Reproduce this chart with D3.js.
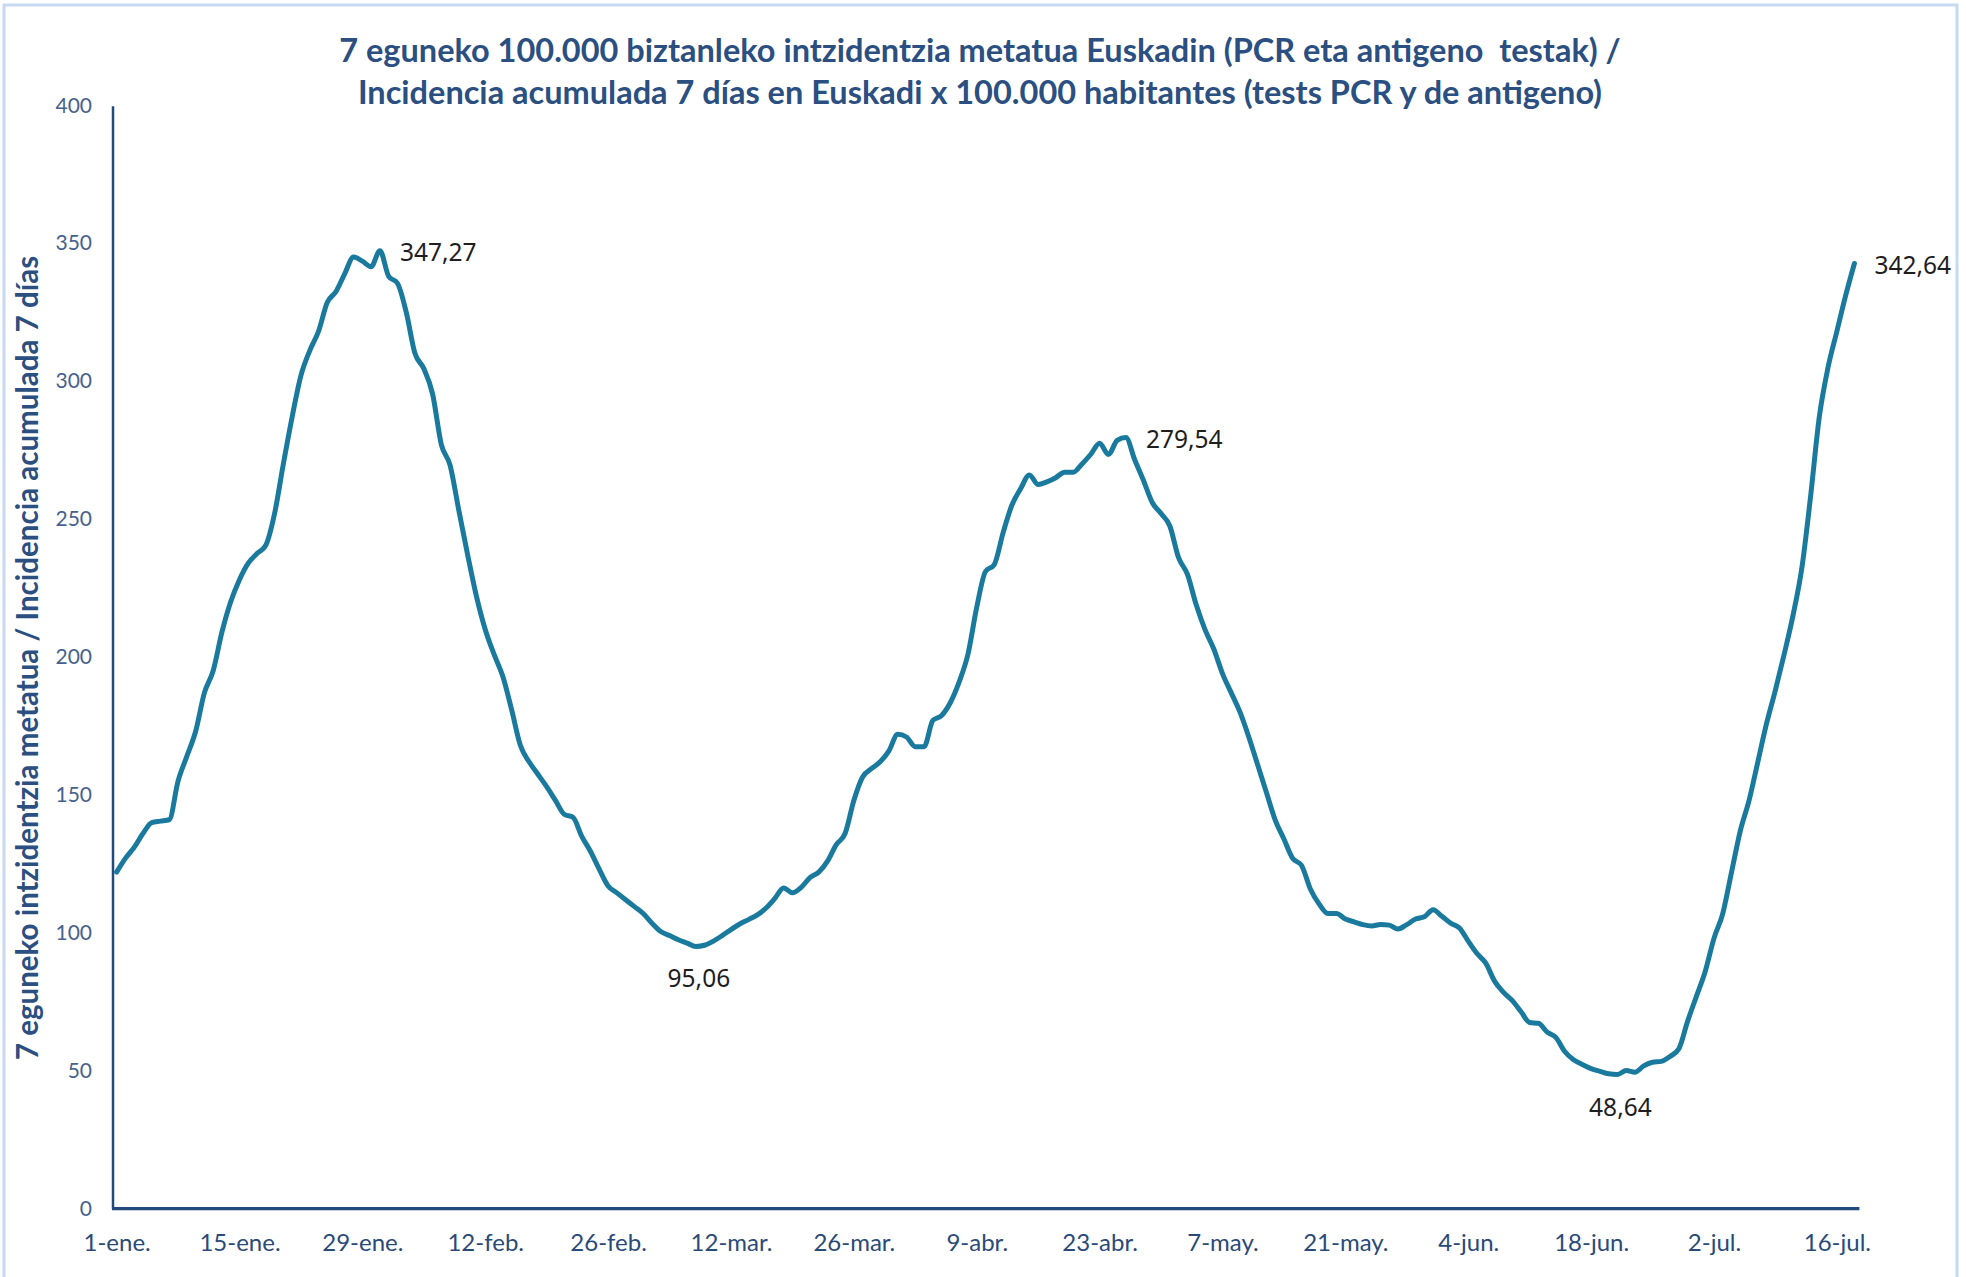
<!DOCTYPE html>
<html>
<head>
<meta charset="utf-8">
<title>Intzidentzia metatua Euskadin</title>
<script src="https://d3js.org/d3.v7.min.js"></script>
<style>
  body { margin: 0; background: #fff; }
  .title { font-family: Lato, "Open Sans", sans-serif; font-weight: 700; fill: #2a4f80; white-space: pre; }
  .ytitle { font-family: Lato, "Open Sans", sans-serif; font-weight: 700; fill: #2a4f80; }
  .y-axis text { font-family: Lato, "Noto Sans", sans-serif; fill: #46628c; }
  .x-axis text { font-family: Lato, "Noto Sans", sans-serif; fill: #2a4a78; }
  .data-label { font-family: "Noto Sans", Lato, sans-serif; fill: #1e1e1e; }
</style>
</head>
<body>
<div id="chart"></div>
<script>
// days are counted from 1-ene. (2021)
const startDate = new Date(2021, 0, 1);

// 7-day cumulative incidence per 100.000, one value per day
const incidence = [
  122, 127, 131, 136, 140, 140.5, 141, 155, 164, 173,
  187, 195, 209, 220, 228, 234, 237.5, 240.5, 252, 270,
  287, 302, 311, 318, 328.5, 332.5, 339, 345, 343.5, 341.5,
  347.27, 338, 335.5, 325, 310, 304.6, 295.4, 277, 269.5, 253,
  237, 222, 210, 201, 193, 181, 168, 162, 157.5, 153,
  148, 143, 141.9, 135, 129.5, 123, 117, 114.5, 112, 109.5,
  107, 103.5, 100.5, 99, 97.5, 96.3, 95.06, 95.5, 97, 99,
  101.2, 103.2, 104.8, 106.5, 109, 112.5, 116.3, 114.5, 116.5, 120,
  122, 126, 132, 136, 148, 156.5, 159.5, 162, 166, 172,
  171, 167.5, 167.5, 177, 178.8, 183.5, 191, 201, 218, 231,
  233.5, 245, 255, 261, 266, 262.5, 263.5, 265, 267, 267,
  270, 273.5, 277.5, 273.4, 278.5, 279.54, 271.5, 264, 256, 252,
  247.5, 236, 230, 219, 210, 203, 194, 187, 180, 171,
  161, 151, 141, 134, 127, 124.5, 116, 110.5, 107, 107,
  105, 104, 103, 102.5, 103, 102.8, 101.4, 103, 105, 105.8,
  108.4, 106, 103.5, 101.8, 97, 92.5, 89, 82.5, 78.5, 75.5,
  71.5, 67.5, 67.2, 64, 62, 57, 54, 52.3, 50.8, 49.8,
  48.9, 48.64, 50.1, 49.5, 51.8, 53.1, 53.4, 55.2, 58, 68,
  77, 86, 98, 107, 122, 137, 148, 162, 176, 188,
  201, 215, 232, 258, 287, 305, 318, 331, 342.64
];

const xTickLabels = ["1-ene.", "15-ene.", "29-ene.", "12-feb.", "26-feb.", "12-mar.", "26-mar.",
  "9-abr.", "23-abr.", "7-may.", "21-may.", "4-jun.", "18-jun.", "2-jul.", "16-jul."];
const xTickStep = 14;
const yTicks = [0, 50, 100, 150, 200, 250, 300, 350, 400];

// days that carry a value label (peaks, troughs and last value)
const labelledDays = [30, 66, 115, 171, 198];

const titleLines = [
  "7 eguneko 100.000 biztanleko intzidentzia metatua Euskadin (PCR eta antigeno  testak) /",
  "Incidencia acumulada 7 días en Euskadi x 100.000 habitantes (tests PCR y de antigeno)"
];
const yTitle = "7 eguneko intzidentzia metatua / Incidencia acumulada 7 días";

const width = 1966, height = 1277;
const series = incidence.map((v, i) => ({ date: d3.timeDay.offset(startDate, i), value: v }));

const svg = d3.select("#chart").append("svg")
  .attr("width", width)
  .attr("height", height);

// chart frame
svg.append("rect")
  .attr("x", 4).attr("y", 5)
  .attr("width", 1953).attr("height", 1300)
  .attr("fill", "#fff")
  .attr("stroke", "#c6d9f1")
  .attr("stroke-width", 3);

const x = d3.scaleTime()
  .domain([startDate, d3.timeDay.offset(startDate, incidence.length - 1)])
  .range([116.6, 1854.4]);
const y = d3.scaleLinear()
  .domain([0, 400])
  .range([1208.7, 105.3]);

const axisX0 = 113;

// y axis
const yAxis = svg.append("g")
  .attr("class", "y-axis")
  .attr("transform", `translate(${axisX0},0)`)
  .call(d3.axisLeft(y).tickValues(yTicks).tickSize(0).tickPadding(21));
yAxis.select(".domain").remove();
yAxis.selectAll("text").attr("font-size", 21);

// x axis
const xAxis = svg.append("g")
  .attr("class", "x-axis")
  .attr("transform", `translate(0,${y(0)})`)
  .call(d3.axisBottom(x)
    .tickValues(xTickLabels.map((_, i) => d3.timeDay.offset(startDate, i * xTickStep)))
    .tickFormat((d, i) => xTickLabels[i])
    .tickSize(0)
    .tickPadding(25));
xAxis.select(".domain").remove();
xAxis.selectAll("text").attr("font-size", 24);

// axis lines
svg.append("line")
  .attr("x1", axisX0).attr("x2", axisX0)
  .attr("y1", y(400) + 1).attr("y2", y(0))
  .attr("stroke", "#234a7c").attr("stroke-width", 2.5);
svg.append("line")
  .attr("x1", axisX0 - 1).attr("x2", x.range()[1] + 5)
  .attr("y1", y(0)).attr("y2", y(0))
  .attr("stroke", "#234a7c").attr("stroke-width", 3.2);

// the series
const line = d3.line()
  .x(d => x(d.date))
  .y(d => y(d.value))
  .curve(d3.curveMonotoneX);

svg.append("path")
  .datum(series)
  .attr("fill", "none")
  .attr("stroke", "#1a7a9e")
  .attr("stroke-width", 5)
  .attr("stroke-linejoin", "round")
  .attr("stroke-linecap", "round")
  .attr("d", line);

// value labels
const fmt = v => d3.format(".2f")(v).replace(".", ",");
labelledDays.forEach(i => {
  const d = series[i];
  const prev = series[i - 1] ? series[i - 1].value : -Infinity;
  const isTrough = d.value < prev && (!series[i + 1] || d.value < series[i + 1].value);
  const t = svg.append("text")
    .attr("class", "data-label")
    .attr("font-size", 24.5)
    .text(fmt(d.value));
  if (isTrough) {
    t.attr("x", x(d.date) + 3).attr("y", y(d.value) + 41).attr("text-anchor", "middle");
  } else {
    t.attr("x", x(d.date) + 20).attr("y", y(d.value) + 10).attr("text-anchor", "start");
  }
});

// titles
svg.selectAll(".title")
  .data(titleLines)
  .join("text")
  .attr("class", "title")
  .attr("x", 980)
  .attr("y", (d, i) => 62 + i * 42)
  .attr("text-anchor", "middle")
  .attr("font-size", 32.5)
  .text(d => d);

svg.append("text")
  .attr("class", "ytitle")
  .attr("transform", `translate(38,658) rotate(-90)`)
  .attr("text-anchor", "middle")
  .attr("font-size", 29.5)
  .text(yTitle);
</script>
</body>
</html>
